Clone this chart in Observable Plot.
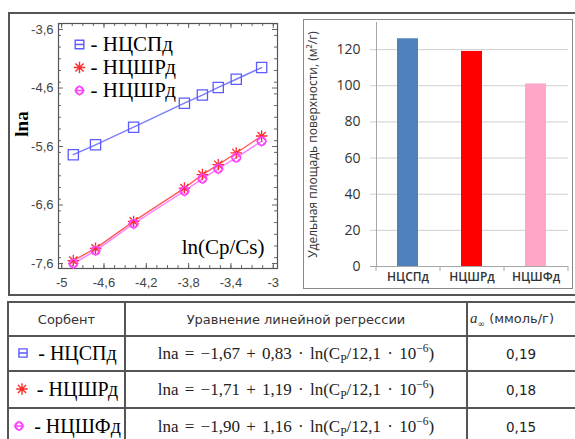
<!DOCTYPE html>
<html><head><meta charset="utf-8">
<script src="https://cdn.jsdelivr.net/npm/d3@7"></script>
<script src="https://cdn.jsdelivr.net/npm/@observablehq/plot@0.6"></script>
<style>
html,body{margin:0;padding:0;background:#fff;}
body{width:575px;height:439px;position:relative;overflow:hidden;}
#topframe{position:absolute;left:8px;top:12px;width:600px;height:284px;box-sizing:border-box;border:2px solid #555;}
#left{position:absolute;left:10px;top:14px;}
#rightwrap{position:absolute;left:303px;top:19px;width:270px;height:270px;box-sizing:border-box;border:1px solid #8a8a8a;}
#right{position:absolute;left:0;top:0;}
#tbl{position:absolute;left:7px;top:301px;border-collapse:collapse;table-layout:fixed;width:600px;}
#tbl td{border:2px solid #555;padding:0;text-align:center;vertical-align:middle;white-space:nowrap;overflow:hidden;}
#tbl .hdr td{font-family:"DejaVu Sans",sans-serif;font-size:13px;color:#333;}
.sorb{font-family:"Liberation Serif",serif;font-size:20px;color:#000;}
.sorb svg{vertical-align:middle;margin-right:8px;position:relative;top:-2px;}
.eq{font-family:"Liberation Serif",serif;font-size:17px;color:#222;word-spacing:2px;}
.eq sub,.eq sup{font-size:0.68em;line-height:0;}
.val{font-family:"DejaVu Sans",sans-serif;font-size:13.5px;color:#222;}
</style></head><body>
<div id="topframe"></div>
<div id="left"></div>
<div id="rightwrap"><div id="right"></div></div>
<table id="tbl"></table>
<script>
// ---------- data ----------
const lnCpCs = [-4.89, -4.68, -4.32, -3.84, -3.67, -3.52, -3.35, -3.11];
const lnaNCSPd = [-5.74, -5.57, -5.27, -4.86, -4.72, -4.59, -4.45, -4.25];
const lnaNCShRd = [-7.55, -7.34, -6.88, -6.31, -6.08, -5.91, -5.71, -5.42];
const lnaNCShFd = [-7.60, -7.38, -6.92, -6.36, -6.15, -5.98, -5.79, -5.51];
const legendNames = ["НЦСПд", "НЦШРд", "НЦШРд"];
const xTicks = [-5, -4.6, -4.2, -3.8, -3.4, -3];
const yTicks = [-3.6, -4.6, -5.6, -6.6, -7.6];

const sorbents = ["НЦСПд", "НЦШРд", "НЦШФд"];
const surfaceArea = [126, 119, 101];
const barColors = ["#4f81bd", "#ff0000", "#ffa6c9"];
const areaTicks = [0, 20, 40, 60, 80, 100, 120];

const eqIntercept = ["−1,67", "−1,71", "−1,90"];
const eqSlope = ["0,83", "1,19", "1,16"];
const aInf = ["0,19", "0,18", "0,15"];

// ---------- symbols ----------
const symSquare = {draw(c, size){const r=Math.sqrt(size)*0.4431;c.moveTo(r,r);c.lineTo(r,-r);c.lineTo(-r,-r);c.lineTo(-r,r);c.closePath();}};
const symSquareLine = {draw(c, size){symSquare.draw(c,size);const r=Math.sqrt(size)*0.4431;c.moveTo(-r,0);c.lineTo(r,0);}};
const symStar = {draw(c, size){const r=Math.sqrt(size)*0.5;for(let i=0;i<4;i++){const a=i*Math.PI/4;c.moveTo(r*Math.cos(a),r*Math.sin(a));c.lineTo(-r*Math.cos(a),-r*Math.sin(a));}}};
const symCircDiamond = {draw(c, size){const r=Math.sqrt(size/Math.PI);c.moveTo(r,0);c.arc(0,0,r,0,2*Math.PI);const q=r*1.1;c.moveTo(0,-q);c.lineTo(q,0);c.lineTo(0,q);c.lineTo(-q,0);c.closePath();}};
const symCircDiamondLine = {draw(c,size){symCircDiamond.draw(c,size);const r=Math.sqrt(size/Math.PI)*1.1;c.moveTo(-r,0);c.lineTo(r,0);}};

const colBlue = "#5b5bff", lineBlue = "#7b7bff";
const colRed = "#ff2a2a", lineRed = "#ff5a5a";
const colPink = "#ff44ff", linePink = "#ff7aff";

// ---------- left chart ----------
const fmt = d => String(+(+d).toFixed(1)).replace(".", ",");
const W1 = 280, H1 = 280, mL = 48, mR = 13, mT = 9, mB = 26;
const fh = H1 - mT - mB, fw = W1 - mL - mR;
const xMinor = d3.range(-50, -29).map(i => i / 10);
const yMinorTicks = d3.range(-77, -34, 2).map(i => i / 10).filter(v => v >= -7.69 && v <= -3.5);
const s1 = lnCpCs.map((x, i) => ({x, y: lnaNCSPd[i]}));
const s2 = lnCpCs.map((x, i) => ({x, y: lnaNCShRd[i]}));
const s3 = lnCpCs.map((x, i) => ({x, y: lnaNCShFd[i]}));
const tickStroke = "#666";
const left = Plot.plot({
  width: W1, height: H1, marginLeft: mL, marginRight: mR, marginTop: mT, marginBottom: mB,
  x: {domain: [-5.03, -2.96]},
  y: {domain: [-7.685, -3.497]},
  style: {background: "transparent", overflow: "visible"},
  marks: [
    Plot.tickX(xMinor, {x: d => d, insetTop: fh - 3, stroke: tickStroke}),
    Plot.tickX(xMinor, {x: d => d, insetBottom: fh - 3, stroke: tickStroke}),
    Plot.tickX(xTicks, {x: d => d, insetTop: fh - 5, stroke: tickStroke}),
    Plot.tickX(xTicks, {x: d => d, insetBottom: fh - 5, stroke: tickStroke}),
    Plot.tickY(yMinorTicks, {y: d => d, insetRight: fw - 3, stroke: tickStroke}),
    Plot.tickY(yMinorTicks, {y: d => d, insetLeft: fw - 3, stroke: tickStroke}),
    Plot.tickY(yTicks, {y: d => d, insetRight: fw - 5, stroke: tickStroke}),
    Plot.tickY(yTicks, {y: d => d, insetLeft: fw - 5, stroke: tickStroke}),
    Plot.frame({stroke: "#555", strokeWidth: 1.2}),
    Plot.line(s1, {x: "x", y: "y", stroke: lineBlue, strokeWidth: 1.4}),
    Plot.line(s2, {x: "x", y: "y", stroke: lineRed, strokeWidth: 1.4}),
    Plot.line(s3, {x: "x", y: "y", stroke: linePink, strokeWidth: 1.4}),
    Plot.dot(s1, {x: "x", y: "y", symbol: symSquare, r: 6.5, stroke: colBlue, fill: "none", strokeWidth: 1.3}),
    Plot.dot(s2, {x: "x", y: "y", symbol: symStar, r: 6.5, stroke: colRed, fill: "none", strokeWidth: 1.3}),
    Plot.dot(s3, {x: "x", y: "y", symbol: symCircDiamond, r: 4.3, stroke: colPink, fill: "none", strokeWidth: 1.3}),
    // legend
    Plot.dot([0], {frameAnchor: "top-left", dx: 21, dy: 21, symbol: symSquareLine, r: 5.5, stroke: colBlue, fill: "none", strokeWidth: 1.4}),
    Plot.dot([0], {frameAnchor: "top-left", dx: 21, dy: 44, symbol: symStar, r: 6.5, stroke: colRed, fill: "none", strokeWidth: 1.4}),
    Plot.dot([0], {frameAnchor: "top-left", dx: 21, dy: 67, symbol: symCircDiamondLine, r: 4, stroke: colPink, fill: "none", strokeWidth: 1.4}),
    Plot.text([legendNames[0]], {frameAnchor: "top-left", dx: 32, dy: 21, text: d => "- " + d, textAnchor: "start", lineAnchor: "middle", fontSize: 21, fontFamily: "Liberation Serif", fill: "#000"}),
    Plot.text([legendNames[1]], {frameAnchor: "top-left", dx: 32, dy: 44, text: d => "- " + d, textAnchor: "start", lineAnchor: "middle", fontSize: 21, fontFamily: "Liberation Serif", fill: "#000"}),
    Plot.text([legendNames[2]], {frameAnchor: "top-left", dx: 32, dy: 67, text: d => "- " + d, textAnchor: "start", lineAnchor: "middle", fontSize: 21, fontFamily: "Liberation Serif", fill: "#000"}),
    // axis titles
    Plot.text(["ln(Cp/Cs)"], {frameAnchor: "bottom-right", dx: -13, dy: -21, textAnchor: "end", lineAnchor: "middle", fontSize: 21, fontFamily: "Liberation Serif", fill: "#000"}),
    Plot.text(["lna"], {frameAnchor: "left", dx: -37, dy: -22, rotate: -90, textAnchor: "middle", lineAnchor: "middle", fontSize: 19, fontWeight: "bold", fontFamily: "Liberation Serif", fill: "#000"}),
    // tick labels
    Plot.axisX({ticks: xTicks, tickSize: 0, tickPadding: 9, tickFormat: fmt, fontSize: 13, fontFamily: "Liberation Sans", fill: "#444", label: null}),
    Plot.axisY({ticks: yTicks, tickSize: 0, tickPadding: 5, tickFormat: fmt, fontSize: 13, fontFamily: "Liberation Sans", fill: "#444", label: null})
  ]
});
document.getElementById("left").appendChild(left);

// ---------- right chart ----------
const W2 = 268, H2 = 268, m2L = 72, m2R = 4, m2T = 2, m2B = 22;
const fh2 = H2 - m2T - m2B, step2 = (W2 - m2L - m2R) / sorbents.length;
const bars = sorbents.map((s, i) => ({s, v: surfaceArea[i], c: barColors[i]}));
const axisGray = "#a6a6a6";
const right = Plot.plot({
  width: W2, height: H2, marginLeft: m2L, marginRight: m2R, marginTop: m2T, marginBottom: m2B,
  x: {type: "band", domain: sorbents, paddingInner: 0.67, paddingOuter: 0.335},
  y: {domain: [0, 135]},
  color: {type: "identity"},
  style: {background: "transparent", fontFamily: "Open Sans"},
  marks: [
    Plot.gridY(areaTicks.slice(1), {stroke: "#cfcfcf", strokeOpacity: 1, insetLeft: -6}),
    Plot.barY(bars, {x: "s", y: "v", fill: "c"}),
    Plot.ruleY([0], {stroke: axisGray, insetLeft: -6}),
    Plot.frame({anchor: "left", stroke: axisGray}),
    Plot.tickX(sorbents, {x: d => d, dx: -step2 / 2, insetTop: fh2, insetBottom: -5, stroke: axisGray}),
    Plot.tickX(sorbents.slice(-1), {x: d => d, dx: step2 / 2, insetTop: fh2, insetBottom: -5, stroke: axisGray}),
    Plot.axisY({ticks: areaTicks, tickSize: 0, tickPadding: 16, fontSize: 14, fontFamily: "Open Sans", fill: "#333",
      label: "Удельная площадь поверхности, (м²/г)", labelAnchor: "center", labelOffset: 68, labelArrow: "none"}),
    Plot.axisX({tickSize: 0, tickPadding: 6, fontSize: 12, fontWeight: 600, fontFamily: "Open Sans", fill: "#333", label: null})
  ]
});
right.querySelectorAll('[aria-label="y-axis label"] text, [aria-label="y-axis label"]').forEach(el => { el.setAttribute("font-size", 12); });
document.getElementById("right").appendChild(right);

// ---------- table ----------
function symSvg(type, size, color, w) {
  const p = d3.symbol().type(type).size(size)();
  return `<svg width="14" height="14" viewBox="-7 -7 14 14"><path d="${p}" fill="none" stroke="${color}" stroke-width="${w}"/></svg>`;
}
const tblSyms = [
  symSvg(symSquareLine, Math.PI * 5.2 * 5.2, colBlue, 1.4),
  symSvg(symStar, Math.PI * 6.5 * 6.5, colRed, 1.4),
  symSvg(symCircDiamondLine, Math.PI * 4 * 4, colPink, 1.4)
];
let html = `<colgroup><col style="width:117px"><col style="width:342px"><col style="width:141px"></colgroup>`;
html += `<tr class="hdr" style="height:34px"><td>Сорбент</td><td>Уравнение линейной регрессии</td><td style="text-align:left;padding-left:2px"><i style="font-family:'Liberation Serif';font-size:15px">a</i><sub style="font-size:9px">∞</sub> (ммоль/г)</td></tr>`;
const rowH = [35, 37, 37];
sorbents.forEach((s, i) => {
  html += `<tr style="height:${rowH[i]}px"><td class="sorb">${tblSyms[i]}- ${s}</td>` +
    `<td class="eq">lna = ${eqIntercept[i]} + ${eqSlope[i]} · ln(C<sub>P</sub>/12,1 · 10<sup>−6</sup>)</td>` +
    `<td class="val" style="text-align:left;padding-left:38px">${aInf[i]}</td></tr>`;
});
document.getElementById("tbl").innerHTML = html;
</script>
</body></html>
